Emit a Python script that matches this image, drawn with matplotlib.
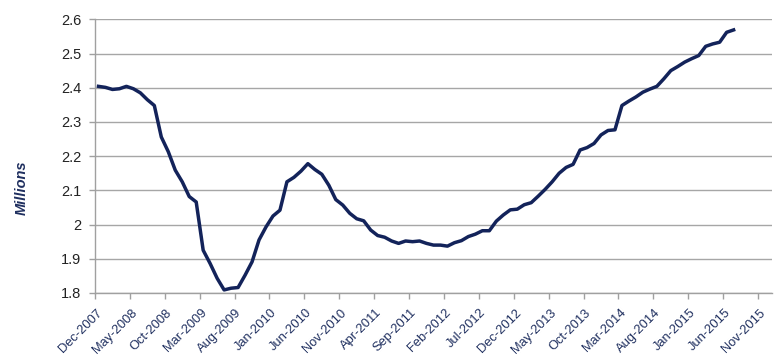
import matplotlib
matplotlib.use("Agg")
import matplotlib.pyplot as plt
import matplotlib.transforms as mtransforms
from matplotlib.ticker import FixedLocator

# Monthly values (millions), Dec-2007 .. Jul-2015
values = [
    2.404, 2.401, 2.395, 2.397, 2.404, 2.397, 2.385, 2.365, 2.348, 2.256,
    2.213, 2.159, 2.125, 2.082, 2.066, 1.925, 1.886, 1.843, 1.809, 1.814,
    1.816, 1.852, 1.891, 1.955, 1.993, 2.025, 2.042, 2.125, 2.138, 2.156,
    2.178, 2.161, 2.147, 2.115, 2.073, 2.057, 2.033, 2.017, 2.011, 1.984,
    1.968, 1.963, 1.952, 1.945, 1.952, 1.950, 1.952, 1.945, 1.940, 1.940,
    1.937, 1.947, 1.953, 1.965, 1.972, 1.982, 1.982, 2.010, 2.028, 2.043,
    2.045, 2.058, 2.064, 2.083, 2.103, 2.125, 2.150, 2.167, 2.176, 2.218,
    2.225, 2.237, 2.262, 2.275, 2.277, 2.348, 2.361, 2.373, 2.387, 2.396,
    2.404, 2.426, 2.450, 2.462, 2.475, 2.485, 2.494, 2.521, 2.528, 2.533,
    2.562, 2.569,
]
n_categories = 97  # Dec-2007 .. Dec-2015 on the category axis
tick_labels = [
    "Dec-2007", "May-2008", "Oct-2008", "Mar-2009", "Aug-2009", "Jan-2010",
    "Jun-2010", "Nov-2010", "Apr-2011", "Sep-2011", "Feb-2012", "Jul-2012",
    "Dec-2012", "May-2013", "Oct-2013", "Mar-2014", "Aug-2014", "Jan-2015",
    "Jun-2015", "Nov-2015",
]
y_ticks = [1.8, 1.9, 2.0, 2.1, 2.2, 2.3, 2.4, 2.5, 2.6]
y_tick_labels = ["1.8", "1.9", "2", "2.1", "2.2", "2.3", "2.4", "2.5", "2.6"]

plt.rcParams["font.family"] = ["Liberation Sans", "DejaVu Sans"]

fig = plt.figure(figsize=(7.8, 3.63), dpi=100)
ax = fig.add_axes([95 / 780, 1 - 293 / 363, (772 - 95) / 780, (293 - 19.3) / 363])

x = list(range(len(values)))
ax.plot(x, values, color="#13235a", lw=2.5, solid_joinstyle="round", zorder=3)

ax.set_xlim(-0.5, n_categories - 0.5)
ax.set_ylim(1.8, 2.6)

# y axis
ax.set_yticks(y_ticks)
ax.set_yticklabels(y_tick_labels)
ax.tick_params(axis="y", direction="out", length=4, width=1, color="#a0a0a0",
               labelsize=10.5, labelcolor="#222222", pad=6)
ax.yaxis.grid(True, color="#a6a6a6", lw=1)

# x axis: labels at category centers, tick marks at category boundaries
label_pos = [5 * k for k in range(len(tick_labels))]
ax.set_xticks(label_pos)
ax.set_xticklabels(tick_labels, rotation=45, ha="right", va="center",
                   rotation_mode="anchor")
ax.tick_params(axis="x", which="major", length=0, labelsize=9.3,
               labelcolor="#1f2f5f", pad=13)
shift = mtransforms.ScaledTranslation(2 / 100, 0, fig.dpi_scale_trans)
for lbl in ax.get_xticklabels():
    lbl.set_transform(lbl.get_transform() + shift)
ax.xaxis.set_minor_locator(FixedLocator([p - 0.5 for p in label_pos]))
ax.tick_params(axis="x", which="minor", direction="out", length=4, width=1,
               color="#a0a0a0")

for s in ["top", "right"]:
    ax.spines[s].set_visible(False)
for s in ["left", "bottom"]:
    ax.spines[s].set_color("#a0a0a0")
    ax.spines[s].set_linewidth(1)

fig.text(0.028, 1 - 188 / 363, "Millions", rotation=90, ha="center", va="center",
         fontsize=10.5, fontweight="bold", fontstyle="italic", color="#1f2f5f")

fig.savefig("out.png", dpi=100)
